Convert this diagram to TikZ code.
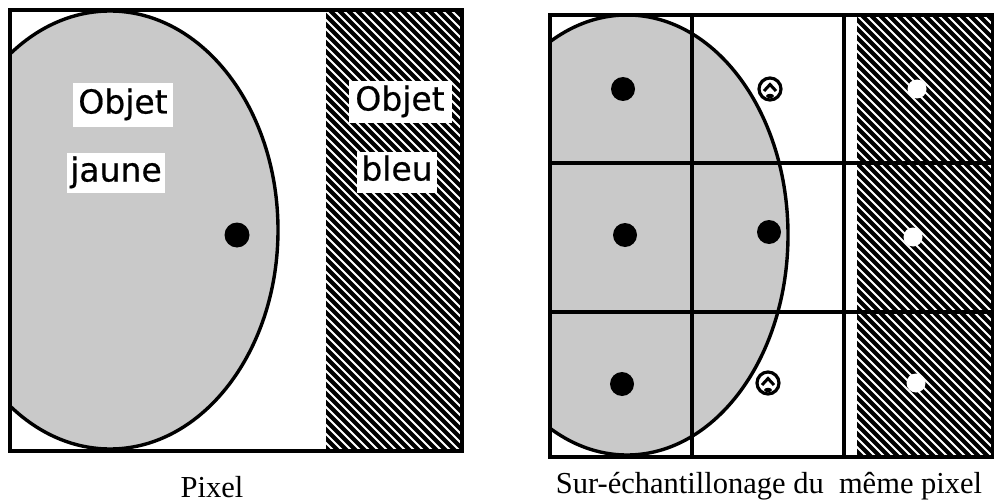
\documentclass[tikz,border=0pt]{standalone}
\usepackage{fontspec}
\newfontfamily\labfont[FakeBold=0.6]{DejaVu Sans}
\newfontfamily\capfont{Liberation Serif}
\begin{document}
\begin{tikzpicture}[x=1pt,y=-1pt,
  thick line/.style={line width=3.4pt},
  stipple/.style={fill=black!21},
  objlabel/.style={fill=white, inner sep=0pt, text height=24pt, text depth=7pt, font=\labfont\fontsize{33}{36}\selectfont},
  caption/.style={anchor=base, font=\capfont\fontsize{30.5}{34}\selectfont},
  blackdot/.style={fill=black},
  whitedot/.style={fill=white},
  hatchline/.style={white, line width=2pt}]
\useasboundingbox (0,0) rectangle (994,503);

% ---------------- Left panel ----------------
\begin{scope}
  \clip (10,10) rectangle (462,451);
  \fill[stipple] (110,230) ellipse [x radius=168, y radius=219];
  \draw[thick line] (110,230) ellipse [x radius=168, y radius=219];
\end{scope}
\fill[black] (326,10) rectangle (462,451);
\begin{scope}
  \clip (326,10) rectangle (462,451);
  \foreach \a in {-125,-116,...,470} \draw[hatchline] (\a,10) -- ++(445,445);
\end{scope}
\draw[thick line] (10,10) rectangle (462,451);
\node[objlabel, minimum width=100pt, minimum height=44pt] (objj) at (123,105) {Objet};
\node[objlabel, minimum width=98pt, minimum height=40pt] (jaune) at (116,173) {jaune};
\node[objlabel, minimum width=103pt, minimum height=41pt] (objb) at (400,102) {Objet};
\node[objlabel, minimum width=80pt, minimum height=41pt] (bleu) at (397,172) {bleu};
\fill[blackdot] (237,235) circle (12.5);
\node[caption] (cap1) at (212,497) {Pixel};

% ---------------- Right panel ----------------
\begin{scope}
  \clip (550,15) rectangle (993,457);
  \fill[stipple] (627,235) ellipse [x radius=161, y radius=220];
  \draw[thick line] (627,235) ellipse [x radius=161, y radius=220];
\end{scope}
\fill[black] (857,15) rectangle (993,457);
\begin{scope}
  \clip (857,15) rectangle (993,457);
  \foreach \a in {407,416,...,1000} \draw[hatchline] (\a,15) -- ++(446,446);
\end{scope}
\draw[thick line] (692,15) -- (692,457);
\draw[thick line] (844,15) -- (844,457);
\draw[thick line] (550,163) -- (993,163);
\draw[thick line] (550,312) -- (993,312);
\draw[thick line] (550,15) rectangle (993,457);

% sample points
\fill[blackdot] (623,89) circle (12);
\fill[blackdot] (625,235) circle (12);
\fill[blackdot] (622,384) circle (12);
\fill[blackdot] (769,232) circle (12);
\fill[whitedot] (917,89) circle (9.5);
\fill[whitedot] (913,237) circle (9.5);
\fill[whitedot] (916,383) circle (9.5);
\foreach \cx/\cy in {770/89, 768/383} {
  \draw[line width=3.2pt] (\cx,\cy) circle (11);
  \draw[line width=3pt] (\cx-6,\cy+2) -- (\cx,\cy-4.5) -- (\cx+6,\cy+2);
  \fill (\cx,\cy+7) ellipse [x radius=4, y radius=2.2];
}
\node[caption] (cap2) at (769,493) {Sur-échantillonage du\ \ même pixel};
\end{tikzpicture}
\end{document}
